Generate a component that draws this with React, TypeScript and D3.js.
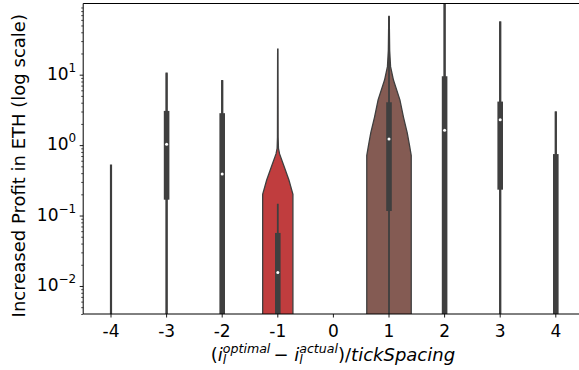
import React, { useRef, useEffect } from "react";
import * as d3 from "d3";

// categories along x (tick difference / tickSpacing)
const categories = ["-4", "-3", "-2", "-1", "0", "1", "2", "3", "4"];
// seaborn tab10 at saturation 0.75
const palette = ["#3274a1", "#e1812c", "#3a923a", "#c03d3e", "#9372b2", "#845b53", "#d684bd", "#7f7f7f", "#a9aa35"];

// box summary per category (null = nothing drawn)
const whiskerLow = [0.001, 0.001, 0.001, 0.001, null, 0.001, 0.001, 0.001, 0.001];
const whiskerHigh = [0.52, 10.5, 8.2, 0.147, null, 67, 300, 56, 2.96];
const q1 = [null, 0.168, 0.001, 0.001, null, 0.116, 0.001, 0.233, 0.001];
const q3 = [null, 3.06, 2.84, 0.0566, null, 4.06, 9.5, 4.15, 0.746];
const medians = [null, 1.03, 0.39, 0.0155, null, 1.22, 1.63, 2.3, null];

// top of the (very thin) violins
const violinTop = [0.52, 10.5, 8.2, 23, null, 67, 300, 56, 2.96];
const thinDensity = 0.02;

// kde profiles for the two wide violins: [value, relative width]
const violinMinus1 = [
  [0.001, 0.68], [0.2, 0.68], [0.32, 0.5], [0.5, 0.28], [0.75, 0.08],
  [0.9, 0.03], [1.3, 0.015], [23, 0.008],
];
const violinPlus1 = [
  [0.001, 1.0], [0.71, 1.0], [1.0, 0.92], [1.49, 0.82], [2.5, 0.65],
  [4.4, 0.49], [8.4, 0.2], [13, 0.07], [22, 0.03], [67, 0.01],
];

const yMajor = [0.01, 0.1, 1, 10];
const yMajorLabels = ["\u22122", "\u22121", "0", "1"];

const W = 579;
const H = 370;
const left = 83.2;
const right = 583.6;
const top = 3.5;
const bottom = 314;
const ink = "#3f3f3f";
const font = "'DejaVu Sans', sans-serif";

const App = () => {
  const ref = useRef(null);

  useEffect(() => {
    const svg = d3.select(ref.current);
    svg.selectAll("*").remove();

    const x = d3.scaleBand().domain(categories).range([left, right]).padding(0);
    const y = d3.scaleLog().domain([0.004, 102.5]).range([bottom, top]);
    const w = d3.scaleLinear().domain([0, 1]).range([0, x.bandwidth() * 0.4]);
    const cx = (c) => x(c) + x.bandwidth() / 2;

    svg
      .append("defs")
      .append("clipPath")
      .attr("id", "plot-clip")
      .append("rect")
      .attr("x", left)
      .attr("y", top)
      .attr("width", right - left)
      .attr("height", bottom - top);

    const g = svg.append("g").attr("clip-path", "url(#plot-clip)");

    // violins
    categories.forEach((c, i) => {
      let prof = null;
      if (c === "-1") prof = violinMinus1;
      else if (c === "1") prof = violinPlus1;
      else if (violinTop[i] != null)
        prof = [
          [0.001, thinDensity],
          [violinTop[i], thinDensity],
        ];
      if (!prof) return;
      const area = d3
        .area()
        .y((d) => y(d[0]))
        .x0((d) => cx(c) - w(d[1]))
        .x1((d) => cx(c) + w(d[1]));
      g.append("path")
        .datum(prof)
        .attr("d", area)
        .attr("fill", palette[i])
        .attr("stroke", ink)
        .attr("stroke-width", 1.3);
    });

    // inner box
    categories.forEach((c, i) => {
      if (whiskerLow[i] != null) {
        g.append("line")
          .attr("x1", cx(c))
          .attr("x2", cx(c))
          .attr("y1", y(whiskerLow[i]))
          .attr("y2", y(whiskerHigh[i]))
          .attr("stroke", ink)
          .attr("stroke-width", 1.8);
      }
      if (q1[i] != null) {
        g.append("rect")
          .attr("x", cx(c) - 2.8)
          .attr("width", 5.6)
          .attr("y", y(q3[i]))
          .attr("height", y(q1[i]) - y(q3[i]))
          .attr("fill", ink);
      }
      if (medians[i] != null) {
        g.append("circle")
          .attr("cx", cx(c))
          .attr("cy", y(medians[i]))
          .attr("r", 1.5)
          .attr("fill", "white");
      }
    });

    // spines
    const sp = svg.append("g").attr("stroke", "black").attr("stroke-width", 1);
    sp.append("line").attr("x1", left).attr("x2", left).attr("y1", top).attr("y2", bottom);
    sp.append("line").attr("x1", left).attr("x2", right).attr("y1", bottom).attr("y2", bottom);
    sp.append("line").attr("x1", left).attr("x2", right).attr("y1", top).attr("y2", top);
    sp.append("line").attr("x1", right).attr("x2", right).attr("y1", top).attr("y2", bottom);

    // x axis
    const xAxis = svg
      .append("g")
      .attr("transform", `translate(0,${bottom})`)
      .call(d3.axisBottom(x).tickSize(3.5).tickPadding(3.5));
    xAxis.select(".domain").remove();
    xAxis.selectAll("line").attr("stroke", "black").attr("stroke-width", 0.9);
    xAxis
      .selectAll("text")
      .attr("font-family", font)
      .attr("font-size", 17)
      .attr("fill", "black")
      .attr("y", 0)
      .attr("dy", 0)
      .attr("transform", "translate(0,22.7)");

    // y axis: minor ticks
    const minor = [];
    for (let e = -3; e <= 2; e++)
      for (let m = 2; m <= 9; m++) {
        const v = m * Math.pow(10, e);
        if (v >= 0.004 && v <= 102.5) minor.push(v);
      }
    const yMinor = svg
      .append("g")
      .attr("transform", `translate(${left},0)`)
      .call(d3.axisLeft(y).tickValues(minor).tickSize(2).tickFormat(() => ""));
    yMinor.select(".domain").remove();
    yMinor.selectAll("line").attr("stroke", "black").attr("stroke-width", 0.7);

    const yAx = svg
      .append("g")
      .attr("transform", `translate(${left},0)`)
      .call(d3.axisLeft(y).tickValues(yMajor).tickSize(3.5).tickFormat(() => ""));
    yAx.select(".domain").remove();
    yAx.selectAll("line").attr("stroke", "black").attr("stroke-width", 0.9);

    yMajor.forEach((v, i) => {
      const t = svg
        .append("text")
        .attr("x", left - 7)
        .attr("y", y(v) + 5)
        .attr("text-anchor", "end")
        .attr("font-family", font)
        .attr("font-size", 17)
        .attr("fill", "black");
      t.append("tspan").text("10");
      t.append("tspan").attr("dy", -7.7).attr("font-size", 12).text(yMajorLabels[i]);
    });

    // axis labels
    svg
      .append("text")
      .attr("transform", `translate(25,${(top + bottom) / 2 + 7}) rotate(-90)`)
      .attr("text-anchor", "middle")
      .attr("font-family", font)
      .attr("font-size", 18)
      .attr("fill", "black")
      .text("Increased Profit in ETH (log scale)");

    const xl = svg
      .append("text")
      .attr("x", (left + right) / 2 - 0.5)
      .attr("y", 361)
      .attr("text-anchor", "middle")
      .attr("font-family", font)
      .attr("font-size", 18)
      .attr("fill", "black");
    xl.append("tspan").text("(");
    xl.append("tspan").attr("font-style", "italic").text("i");
    xl.append("tspan").attr("font-style", "italic").attr("font-size", 12.6).attr("dy", 3).text("l");
    xl.append("tspan").attr("font-style", "italic").attr("font-size", 12.6).attr("dx", -3.5).attr("dy", -11).text("optimal");
    xl.append("tspan").attr("dy", 8).attr("dx", 3).text("\u2212 ");
    xl.append("tspan").attr("font-style", "italic").text("i");
    xl.append("tspan").attr("font-style", "italic").attr("font-size", 12.6).attr("dy", 3).text("l");
    xl.append("tspan").attr("font-style", "italic").attr("font-size", 12.6).attr("dx", -3.5).attr("dy", -11).text("actual");
    xl.append("tspan").attr("dy", 8).text(")/");
    xl.append("tspan").attr("font-style", "italic").text("tickSpacing");

    return () => {
      svg.selectAll("*").remove();
    };
  }, []);

  return (
    <svg
      ref={ref}
      width={W}
      height={H}
      style={{ position: "absolute", left: 0, top: 0, display: "block", background: "white" }}
    />
  );
};

export default App;
